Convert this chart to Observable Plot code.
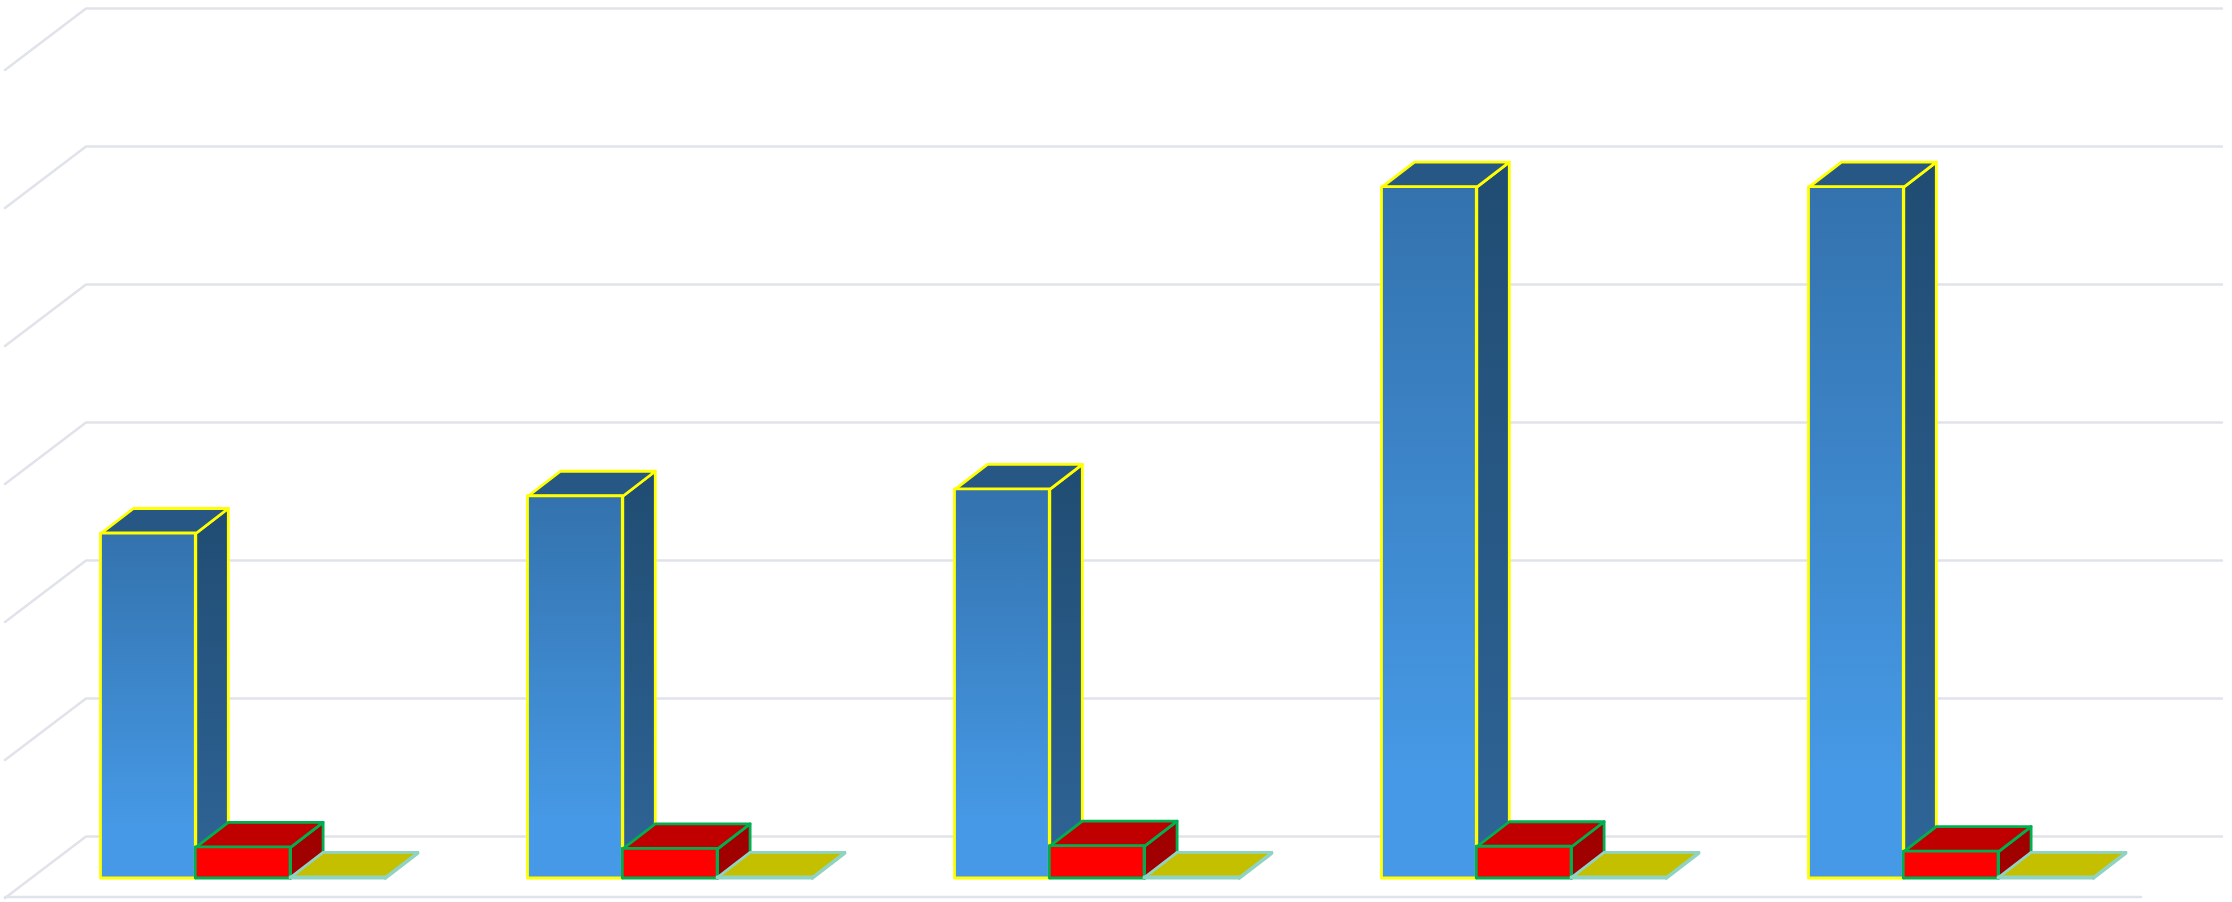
<!DOCTYPE html>
<html>
<head>
<meta charset="utf-8">
<style>html,body{margin:0;padding:0;background:#fff}svg{display:block}</style>
<script src="https://cdn.jsdelivr.net/npm/d3@7"></script>
<script src="https://cdn.jsdelivr.net/npm/@observablehq/plot@0.6"></script>
</head>
<body>
<script>
// Values (one grid step = 1)
const categories = [0, 1, 2, 3, 4];
const blueValues = [2.50, 2.77, 2.82, 5.01, 5.01];
const redValues = [0.225, 0.215, 0.235, 0.23, 0.195];
const oliveValues = [0.008, 0.008, 0.008, 0.008, 0.008];
const gridLevels = [0, 1, 2, 3, 4, 5, 6];

// Scene geometry in scale units (x: one cluster = 1, y: one grid step = 1)
const barW = 94.8 / 427, depthX = 32.5 / 427, depthY = 25 / 138;
const wallLeft = -15 / 427, wallRight = 2121 / 427, floorLeft = -96 / 427, floorRight = 2040 / 427;
const wallBase = 42 / 138, floorFront = -18.5 / 138, wallDrop = 61.5 / 138;

function records(values, slot) {
  return categories.map((c, i) => ({key: c, x1: c + slot * barW, x2: c + (slot + 1) * barW, v: values[i]}));
}
function sideFaces(rows) {
  return rows.flatMap(r => [
    [r.x2, 0], [r.x2 + depthX, depthY], [r.x2 + depthX, r.v + depthY], [r.x2, r.v], [r.x2, 0]
  ].map(([x, y]) => ({key: r.key, x, y})));
}
function topFaces(rows) {
  return rows.flatMap(r => [
    [r.x1, r.v], [r.x1 + depthX, r.v + depthY], [r.x2 + depthX, r.v + depthY], [r.x2, r.v], [r.x1, r.v]
  ].map(([x, y]) => ({key: r.key, x, y})));
}
function bar3d(values, slot, front, side, top, stroke, strokeWidth) {
  const rows = records(values, slot);
  return [
    Plot.line(sideFaces(rows), {x: "x", y: "y", z: "key", fill: side, stroke, strokeWidth}),
    Plot.line(topFaces(rows), {x: "x", y: "y", z: "key", fill: top, stroke, strokeWidth}),
    Plot.rect(rows, {x1: "x1", x2: "x2", y1: 0, y2: "v", fill: front, stroke, strokeWidth, strokeLinejoin: "round"})
  ];
}
const gridRows = gridLevels.flatMap(k => [
  {key: k, x: floorLeft, y: k + wallBase - wallDrop},
  {key: k, x: wallLeft, y: k + wallBase},
  {key: k, x: wallRight, y: k + wallBase}
]);
const floorRows = [{x: floorLeft, y: floorFront}, {x: floorRight, y: floorFront}];

function gradients() {
  const ns = "http://www.w3.org/2000/svg";
  const defs = document.createElementNS(ns, "defs");
  const add = (id, stops) => {
    const g = document.createElementNS(ns, "linearGradient");
    g.setAttribute("id", id);
    g.setAttribute("x1", 0); g.setAttribute("y1", 0); g.setAttribute("x2", 0); g.setAttribute("y2", 1);
    stops.forEach(([o, c]) => {
      const s = document.createElementNS(ns, "stop");
      s.setAttribute("offset", o); s.setAttribute("stop-color", c);
      g.appendChild(s);
    });
    defs.appendChild(g);
  };
  add("blueFront", [[0, "#3372ad"], [0.85, "#4699e6"], [1, "#4699e6"]]);
  add("blueSide", [[0, "#204c72"], [1, "#2f6598"]]);
  return defs;
}

const chart = Plot.plot({
  width: 2232, height: 902,
  margin: 0,
  style: {background: "#fff"},
  x: {axis: null, domain: [-101 / 427, 2131 / 427], range: [-0.5, 2231.5]},
  y: {axis: null, domain: [-24 / 138, 878 / 138], range: [902, 0]},
  marks: [
    gradients,
    Plot.line(gridRows, {x: "x", y: "y", z: "key", stroke: "#e1e3eb", strokeWidth: 2.5, strokeLinecap: "round"}),
    Plot.line(floorRows, {x: "x", y: "y", stroke: "#e1e3eb", strokeWidth: 2.5, strokeLinecap: "round"}),
    ...bar3d(blueValues, 0, "url(#blueFront)", "url(#blueSide)", "#275784", "#ffff00", 2.8),
    ...bar3d(redValues, 1, "#ff0000", "#a00000", "#c00000", "#00b050", 2.8),
    ...bar3d(oliveValues, 2, "#c4c000", "#c4c000", "#c4c000", "#8fd3c3", 2.8)
  ]
});
document.body.appendChild(chart);
</script>
</body>
</html>
